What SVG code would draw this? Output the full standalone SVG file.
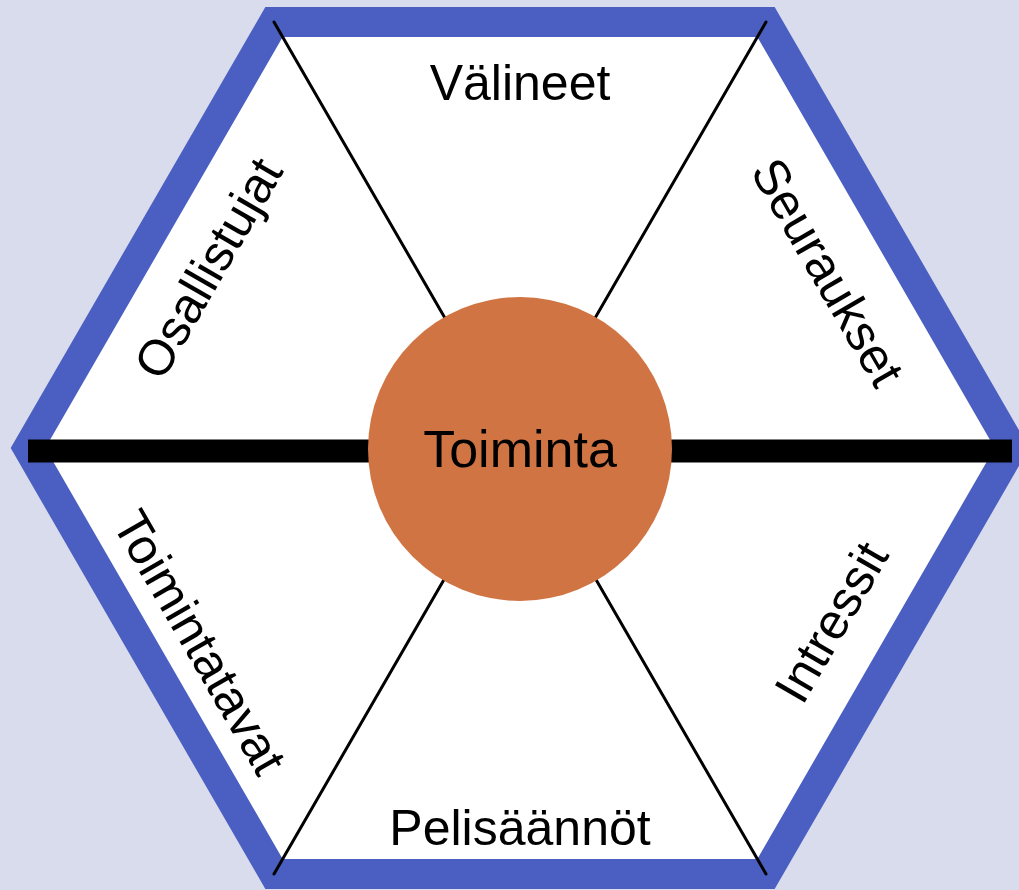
<svg xmlns="http://www.w3.org/2000/svg" width="1019" height="890" viewBox="0 0 1019 890">
<style>
.lbl{font-family:"Liberation Sans",Arial,sans-serif;font-size:50px;fill:#000;text-anchor:middle}
.spoke{stroke:#000;stroke-width:3;stroke-linecap:round}
</style>
<rect x="0" y="0" width="1019" height="890" fill="#d8dcec"/>
<g id="hexagon">
<polygon points="274,22 766,22 1012,448 766,874 274,874 28,448" fill="#ffffff" stroke="#4a5fc1" stroke-width="30" stroke-linejoin="miter"/>
</g>
<g id="connectors">
<line class="spoke" x1="274" y1="22" x2="766" y2="874"/>
<line class="spoke" x1="766" y1="22" x2="274" y2="874"/>
<line x1="28" y1="451" x2="1012" y2="451" stroke="#000" stroke-width="23"/>
</g>
<g id="center">
<circle cx="520" cy="449" r="152" fill="#d07444"/>
<text class="lbl" x="520" y="467" style="font-size:52px">Toiminta</text>
</g>
<g id="valineet"><text class="lbl" x="520" y="100">Välineet</text></g>
<g id="osallistujat"><text class="lbl" transform="translate(208,268) rotate(-60)" dy="0.35em">Osallistujat</text></g>
<g id="seuraukset"><text class="lbl" transform="translate(828,272) rotate(60)" dy="0.35em">Seuraukset</text></g>
<g id="toimintatavat"><text class="lbl" transform="translate(200,642) rotate(60)" dy="0.35em">Toimintatavat</text></g>
<g id="intressit"><text class="lbl" transform="translate(831,622) rotate(-60)" dy="0.35em">Intressit</text></g>
<g id="pelisaannot"><text class="lbl" x="520" y="845">Pelisäännöt</text></g>
</svg>
